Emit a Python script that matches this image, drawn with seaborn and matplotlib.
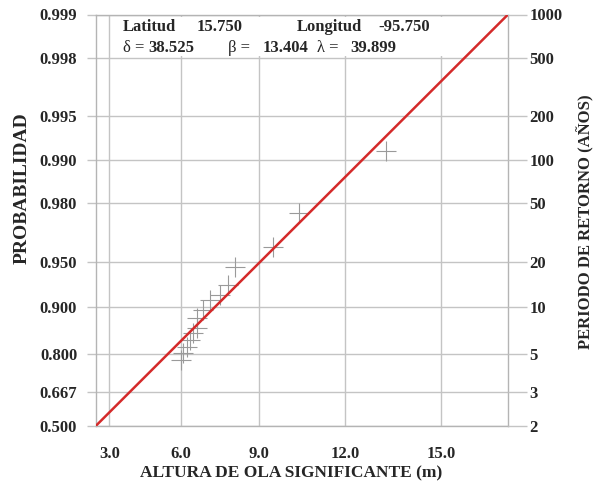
import numpy as np
import matplotlib
matplotlib.use("Agg")
import matplotlib.pyplot as plt
import seaborn as sns
import pandas as pd
from matplotlib.patches import Rectangle

# ---------------- data ----------------
latitud = "15.750"
longitud = "-95.750"
delta_txt = "38.525"
beta_txt = "13.404"
lambda_txt = "39.899"
LAMBDA = 39.899

prob_ticks = [0.500, 0.667, 0.800, 0.900, 0.950, 0.980, 0.990, 0.995, 0.998, 0.999]
prob_labels = ["0.500", "0.667", "0.800", "0.900", "0.950", "0.980", "0.990", "0.995", "0.998", "0.999"]
period_labels = ["2", "3", "5", "10", "20", "50", "100", "200", "500", "1000"]
height_ticks = [3.0, 6.0, 9.0, 12.0, 15.0]
height_labels = ["3.0", "6.0", "9.0", "12.0", "15.0"]

wave_height = [13.31, 10.42, 9.49, 8.10, 7.83, 7.53, 7.15, 6.86, 6.63, 6.63, 6.48, 6.36, 6.23, 6.09, 5.99]
probability = [0.9912, 0.9769, 0.9607, 0.9464, 0.9289, 0.9171, 0.9106, 0.896, 0.8828, 0.8639,
               0.8535, 0.8377, 0.8213, 0.8043, 0.784]

line_height = [2.413, 16.887]
line_prob = [0.500, 0.999]

# ---------------- scales ----------------
def xf(x):
    x = np.asarray(x, dtype=float)
    with np.errstate(all="ignore"):
        return -np.log(np.clip(LAMBDA - x, 1e-9, None))

def xi(t):
    t = np.asarray(t, dtype=float)
    return LAMBDA - np.exp(-t)

def yf(p):
    p = np.asarray(p, dtype=float)
    with np.errstate(all="ignore"):
        p = np.clip(p, 1e-12, 1 - 1e-12)
        return -np.log(-np.log(p))

def yi(g):
    g = np.asarray(g, dtype=float)
    return np.exp(-np.exp(-g))

sns.set_style("white")
plt.rcParams["font.family"] = ["Liberation Serif", "DejaVu Serif"]
plt.rcParams["font.weight"] = "bold"

W, H = 600, 492
fig = plt.figure(figsize=(W / 100, H / 100), dpi=100)
L, R, T, B = 96, 508, 14.5, 425.7
ax = fig.add_axes([L / W, (H - B) / H, (R - L) / W, (B - T) / H])

ax.set_xscale("function", functions=(xf, xi))
ax.set_yscale("function", functions=(yf, yi))

grid_c = "#c4c4c4"
ax.set_axisbelow(True)

pts = pd.DataFrame({"h": wave_height, "p": probability})
sns.scatterplot(data=pts, x="h", y="p", marker="+", s=210, color="#9a9a9a",
                linewidth=0.8, ax=ax, zorder=3)
ln = pd.DataFrame({"h": line_height, "p": line_prob})
sns.lineplot(data=ln, x="h", y="p", color="#d42a2a", lw=1.8, ax=ax, zorder=4,
             sort=False, estimator=None)

ax.set_xlim(line_height[0], line_height[1])
ax.set_ylim(0.500, 0.999)

ax.set_xticks(height_ticks)
ax.set_xticklabels(height_labels)
ax.set_yticks(prob_ticks)
ax.set_yticklabels(prob_labels)
ax.xaxis.set_minor_locator(matplotlib.ticker.NullLocator())
ax.yaxis.set_minor_locator(matplotlib.ticker.NullLocator())
ax.grid(True, color=grid_c, lw=1.0)
ax.tick_params(axis="both", which="major", direction="out", length=6.5, width=1.0,
               color=grid_c, labelsize=12, pad=7)
ax.tick_params(axis="x", pad=8)
for lab in ax.get_xticklabels() + ax.get_yticklabels():
    lab.set_fontweight("bold")
for s in ax.spines.values():
    s.set_color("#b4b4b4")
    s.set_linewidth(1.0)
ax.set_xlabel("")
ax.set_ylabel("")

ax2 = ax.twinx()
ax2.set_yscale("function", functions=(yf, yi))
ax2.set_ylim(0.500, 0.999)
ax2.set_yticks(prob_ticks)
ax2.set_yticklabels(period_labels)
ax2.yaxis.set_minor_locator(matplotlib.ticker.NullLocator())
ax2.tick_params(axis="y", direction="out", length=14, width=1.0, color=grid_c,
                labelsize=12, pad=1.5)
for lab in ax2.get_yticklabels():
    lab.set_fontweight("bold")
for s in ax2.spines.values():
    s.set_visible(False)

# white box behind header text
bx0, bx1, by0, by1 = 112, 455, 17, 56
ax.add_patch(Rectangle(((bx0 - L) / (R - L), (B - by1) / (B - T)),
                       (bx1 - bx0) / (R - L), (by1 - by0) / (B - T),
                       transform=ax.transAxes, facecolor="white", edgecolor="none",
                       zorder=2.5))

def ftext(xp, yp, s, **kw):
    fig.text(xp / W, 1 - yp / H, s, fontsize=kw.pop("fontsize", 12), **kw)

hdr = dict(fontweight="bold", va="center", ha="left", zorder=5)
ftext(123, 27, "Latitud", **hdr)
ftext(197, 27, latitud, **hdr)
ftext(297, 27, "Longitud", **hdr)
ftext(378, 27, longitud, **hdr)
ftext(123, 48, "δ =", fontweight="normal", va="center", ha="left")
ftext(148, 48, delta_txt, **hdr)
ftext(228, 48, "β =", fontweight="normal", va="center", ha="left")
ftext(263, 48, beta_txt, **hdr)
ftext(317, 48, "λ =", fontweight="normal", va="center", ha="left")
ftext(350, 48, lambda_txt, **hdr)

ftext(291, 473, "ALTURA DE OLA SIGNIFICANTE (m)", fontweight="bold", ha="center", va="center",
      fontsize=12.5)
ftext(22, 188, "PROBABILIDAD", fontweight="bold", ha="center", va="center", rotation=90,
      fontsize=14)
ftext(586, 222, "PERIODO DE RETORNO (AÑOS)", fontweight="bold", ha="center", va="center",
      rotation=90)

fig.savefig("out.png", dpi=100, facecolor="white")
